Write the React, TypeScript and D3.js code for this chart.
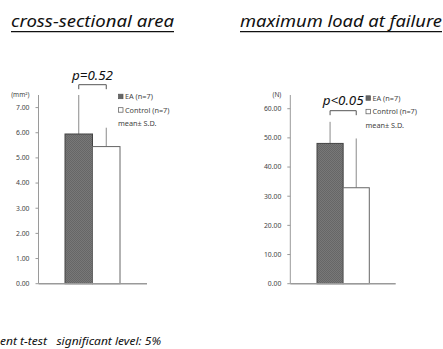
import * as d3 from "d3";

const groups = ["EA (n=7)", "Control (n=7)"];
const areaMeans = [5.95, 5.45];
const areaSD = [1.55, 0.75];
const areaTicks = [0, 1, 2, 3, 4, 5, 6, 7];
const loadMeans = [48.1, 32.9];
const loadSD = [7.4, 16.9];
const loadTicks = [0, 10, 20, 30, 40, 50, 60];

const FONT = "'Noto Sans', 'DejaVu Sans', sans-serif";
const GRAY_AXIS = "#9a9a9a";

type PanelProps = {
  title: string;
  titleX: number;
  titleW: number;
  unit: string;
  means: number[];
  sds: number[];
  ticks: number[];
  max: number;
  axisX: number;
  axisEnd: number;
  barStart: number;
  barEnd: number;
  pLabel: string;
  pY: number;
  bracketY: number;
  legendX: number;
  legendY: number;
};

const Panel = (p: PanelProps) => {
  const y = d3.scaleLinear().domain([0, p.max]).range([283.7, 95]);
  const x = d3.scaleBand().domain(groups).range([p.barStart, p.barEnd]).paddingInner(0);
  const cx = groups.map((g) => (x(g) ?? 0) + x.bandwidth() / 2);
  const fmt = d3.format(".2f");

  return (
    <g>
      <text
        x={p.titleX}
        y={27}
        fontFamily={FONT}
        fontStyle="italic"
        fontSize={16.5}
        fill="#111"
        textLength={p.titleW}
        lengthAdjust="spacingAndGlyphs"
      >
        {p.title}
      </text>
      <line x1={p.titleX} x2={p.titleX + p.titleW} y1={31.7} y2={31.7} stroke="#111" strokeWidth={1.2} />

      {/* y axis */}
      <line x1={p.axisX} x2={p.axisX} y1={y(p.max)} y2={y(0)} stroke={GRAY_AXIS} strokeWidth={1} />
      {p.ticks.map((t) => (
        <g key={t}>
          <line x1={p.axisX - 3} x2={p.axisX} y1={y(t)} y2={y(t)} stroke={GRAY_AXIS} />
          <text x={p.axisX - 9} y={y(t) + 2.4} textAnchor="end" fontFamily={FONT} fontSize={6.8} fill="#444">
            {fmt(t)}
          </text>
        </g>
      ))}
      <text x={p.axisX - 9} y={97} textAnchor="end" fontFamily={FONT} fontSize={6.5} fill="#444">
        {p.unit}
      </text>

      {/* error bars */}
      {groups.map((g, i) => (
        <line
          key={g}
          x1={cx[i]}
          x2={cx[i]}
          y1={y(p.means[i])}
          y2={y(Math.min(p.means[i] + p.sds[i], p.max))}
          stroke="#8a8a8a"
          strokeWidth={1}
        />
      ))}

      {/* bars */}
      {groups.map((g, i) => (
        <rect
          key={g}
          x={x(g)}
          y={y(p.means[i])}
          width={x.bandwidth()}
          height={y(0) - y(p.means[i])}
          fill={i === 0 ? "url(#dither)" : "#fff"}
          stroke={i === 0 ? "#444" : "#666"}
          strokeWidth={1}
        />
      ))}

      {/* x axis */}
      <line x1={p.axisX} x2={p.axisEnd} y1={y(0)} y2={y(0)} stroke={GRAY_AXIS} strokeWidth={1.5} />

      {/* significance bracket */}
      <path
        d={`M${cx[0]},${p.bracketY + 4.5}V${p.bracketY}H${cx[1]}V${p.bracketY + 4.5}`}
        fill="none"
        stroke="#555"
        strokeWidth={1}
      />
      <text
        x={(cx[0] + cx[1]) / 2}
        y={p.pY}
        textAnchor="middle"
        fontFamily={FONT}
        fontStyle="italic"
        fontSize={13}
        fill="#111"
        textLength={41}
        lengthAdjust="spacingAndGlyphs"
      >
        {p.pLabel}
      </text>

      {/* legend */}
      {groups.map((g, i) => (
        <g key={g} transform={`translate(${p.legendX},${p.legendY + i * 13.5})`}>
          <rect x={0.5} y={-2.5} width={4.5} height={4.5} fill={i === 0 ? "#666" : "#fff"} stroke="#555" strokeWidth={0.7} />
          <text x={7} y={2.5} fontFamily={FONT} fontSize={7.3} fill="#444">
            {g}
          </text>
        </g>
      ))}
      <text x={p.legendX} y={p.legendY + 29.5} fontFamily={FONT} fontSize={7.3} fill="#444">
        mean± S.D.
      </text>
    </g>
  );
};

export default function App() {
  return (
    <svg
      width={443}
      height={349}
      style={{ position: "absolute", left: 0, top: 0, background: "#fff" }}
    >
      <defs>
        <pattern id="dither" width={2} height={2} patternUnits="userSpaceOnUse">
          <rect width={2} height={2} fill="#787878" />
          <rect width={1} height={1} fill="#666" />
          <rect x={1} y={1} width={1} height={1} fill="#666" />
        </pattern>
      </defs>
      <Panel
        title="cross-sectional area"
        titleX={11}
        titleW={163}
        unit="(mm²)"
        means={areaMeans}
        sds={areaSD}
        ticks={areaTicks}
        max={7.5}
        axisX={38.5}
        axisEnd={147}
        barStart={65}
        barEnd={120}
        pLabel="p=0.52"
        pY={80}
        bracketY={84.7}
        legendX={118}
        legendY={96.7}
      />
      <Panel
        title="maximum load at failure"
        titleX={240}
        titleW={202}
        unit="(N)"
        means={loadMeans}
        sds={loadSD}
        ticks={loadTicks}
        max={64.7}
        axisX={290.3}
        axisEnd={395.7}
        barStart={317}
        barEnd={369.3}
        pLabel="p<0.05"
        pY={105}
        bracketY={110.7}
        legendX={365.5}
        legendY={98.3}
      />
      <text
        x={0}
        y={345}
        fontFamily={FONT}
        fontStyle="italic"
        fontSize={10.5}
        fill="#111"
        textLength={161}
        lengthAdjust="spacingAndGlyphs"
        style={{ whiteSpace: "pre" }}
      >
        {"ent t-test   significant level: 5%"}
      </text>
    </svg>
  );
}
